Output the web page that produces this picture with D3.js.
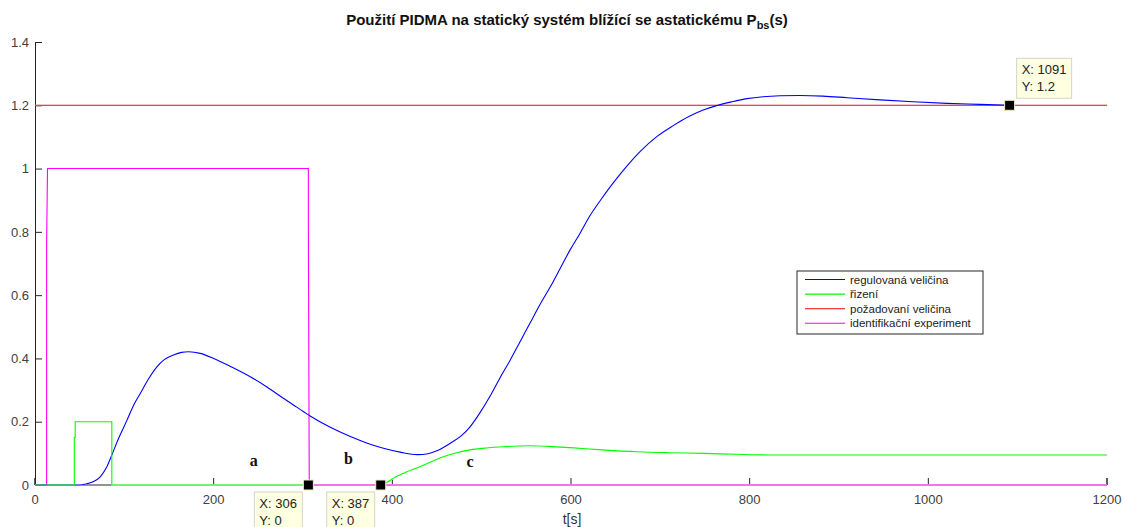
<!DOCTYPE html>
<html>
<head>
<meta charset="utf-8">
<script src="https://cdn.jsdelivr.net/npm/d3@7"></script>
<style>
  html, body { margin: 0; padding: 0; background: #fff; }
  svg { display: block; font-family: "Liberation Sans", Arial, sans-serif; }
</style>
</head>
<body>
<svg id="chart" width="1130" height="527"></svg>
<script>
// Axis ticks
const xTicks = [0, 200, 400, 600, 800, 1000, 1200];
const yTicks = [0, 0.2, 0.4, 0.6, 0.8, 1, 1.2, 1.4];

// Series: [t, value]
const regulovana = [
  [0,0],[50,0],[57,0.003],[65,0.01],[73,0.026],[80,0.055],[86,0.095],[94,0.15],[103,0.205],
  [110,0.25],[118,0.29],[127,0.335],[136,0.372],[145,0.397],[155,0.411],[164,0.419],[172,0.421],
  [185,0.416],[200,0.40],[220,0.373],[241,0.342],[260,0.309],[278,0.274],[293,0.246],[308,0.218],
  [330,0.183],[353,0.153],[372,0.132],[390,0.116],[410,0.103],[428,0.096],[440,0.099],[450,0.108],
  [465,0.132],[477,0.155],[487,0.184],[498,0.228],[509,0.279],[520,0.336],[532,0.395],[543,0.453],
  [554,0.511],[565,0.569],[577,0.627],[588,0.685],[599,0.743],[610,0.795],[621,0.85],[633,0.90],
  [646,0.95],[659,0.996],[677,1.053],[696,1.101],[714,1.135],[733,1.166],[748,1.185],[763,1.199],
  [780,1.211],[797,1.221],[815,1.227],[834,1.230],[856,1.231],[882,1.229],[909,1.224],[946,1.217],
  [983,1.211],[1021,1.206],[1058,1.203],[1091,1.2]
];
// Control signal: test pulse, then (after a gap) the controller output
const rizeniPulse = [[0,0],[44,0],[44,0.15],[45,0.15],[45,0.2],[86,0.2],[86,0],[306,0]];
const rizeniRegulace = [
  [387,0],[395,0.01],[401,0.021],[415,0.04],[431,0.058],[445,0.075],[457,0.089],[472,0.102],
  [487,0.111],[505,0.117],[524,0.121],[554,0.124],[575,0.122],[599,0.118],[635,0.111],[674,0.105],
  [710,0.102],[748,0.100],[785,0.097],[823,0.095],[900,0.095],[1000,0.095],[1100,0.095],[1200,0.095]
];
const pozadovana = [[0,1.2],[1200,1.2]];
const identifikace = [[0,0],[13,0],[13,0.76],[14,1],[306,1],[306,0.83],[307,0],[1200,0]];

const legendLabels = ["regulovaná veličina", "řizení", "požadovaní veličina", "identifikační experiment"];
const seriesColors = ["#0000ff", "#00ff00", "#ff0000", "#ff00ff"];

// Data tips: [t, value, placement]
const dataTips = [[306, 0, "below"], [387, 0, "below"], [1091, 1.2, "above"]];
const sectionLabels = [["a", 245, 0.06], ["b", 351, 0.065], ["c", 487, 0.058]];

const svg = d3.select("#chart");
const plotLeft = 35, plotRight = 1107, plotTop = 42, plotBottom = 485;

const x = d3.scaleLinear().domain([0, 1200]).range([plotLeft, plotRight]);
const y = d3.scaleLinear().domain([0, 1.4]).range([plotBottom, plotTop]);

const line = d3.line().x(d => x(d[0])).y(d => y(d[1]));
const smooth = d3.line().curve(d3.curveMonotoneX).x(d => x(d[0])).y(d => y(d[1]));

// Axes with inward ticks (drawn first so the data lines sit on top)
const axisColor = "#262626";
const xAxis = svg.append("g").attr("transform", `translate(0,${plotBottom})`)
  .call(d3.axisBottom(x).tickValues(xTicks).tickSize(-7).tickPadding(12).offset(0).tickFormat(d3.format("d")));
const yAxis = svg.append("g").attr("transform", `translate(${plotLeft},0)`)
  .call(d3.axisLeft(y).tickValues(yTicks).tickSize(-7).tickPadding(6).tickFormat(d => d3.format("~g")(d)));
[xAxis, yAxis].forEach(a => {
  a.select(".domain").attr("stroke", axisColor).attr("stroke-width", 1);
  a.selectAll(".tick line").attr("stroke", axisColor);
  a.selectAll(".tick text").attr("fill", "#404040").attr("font-size", 13)
    .attr("font-family", "'Liberation Sans', Arial, sans-serif");
});
xAxis.selectAll(".tick text").attr("dy", "0.5em");

// Lines: each path gets an opaque white underlay so it hides the axis beneath it
const series = [
  [identifikace, line, seriesColors[3]],
  [pozadovana, line, seriesColors[2]],
  [regulovana, smooth, seriesColors[0]],
  [rizeniPulse, line, seriesColors[1]],
  [rizeniRegulace, smooth, seriesColors[1]]
];
const under = svg.append("g").attr("fill", "none").attr("stroke", "#fff").attr("stroke-width", 1.3);
const g = svg.append("g").attr("fill", "none").attr("stroke-width", 1.1);
series.forEach(([data, gen, color]) => {
  under.append("path").datum(data).attr("d", gen);
});
series.forEach(([data, gen, color]) => {
  g.append("path").datum(data).attr("d", gen).attr("stroke", color);
});

// Section labels
svg.append("g").selectAll("text").data(sectionLabels).join("text")
  .attr("x", d => x(d[1])).attr("y", d => y(d[2]))
  .attr("text-anchor", "middle")
  .attr("font-family", "'Liberation Serif', 'Times New Roman', serif")
  .attr("font-weight", "bold").attr("font-size", 16).attr("fill", "#111")
  .text(d => d[0]);

// Title
const title = svg.append("text").attr("x", 567).attr("y", 25).attr("text-anchor", "middle")
  .attr("font-weight", "bold").attr("font-size", 15).attr("fill", "#111");
title.append("tspan").text("Použití PIDMA na statický systém blížící se astatickému P");
title.append("tspan").attr("font-size", 11).attr("dy", 4).text("bs");
title.append("tspan").attr("dy", -4).text("(s)");

// X label
svg.append("text").attr("x", 572).attr("y", 524).attr("text-anchor", "middle")
  .attr("font-size", 14).attr("fill", "#333").text("t[s]");

// Legend
const lg = svg.append("g").attr("transform", "translate(797,271)");
lg.append("rect").attr("width", 186).attr("height", 63).attr("fill", "#fff")
  .attr("stroke", axisColor).attr("stroke-width", 1);
legendLabels.forEach((lab, i) => {
  const yy = 8.5 + i * 14.6;
  lg.append("line").attr("x1", 8).attr("x2", 48).attr("y1", yy).attr("y2", yy)
    .attr("stroke", seriesColors[i]).attr("stroke-width", 1.1);
  lg.append("text").attr("x", 53).attr("y", yy + 4).attr("font-size", 11.5).attr("fill", "#222").text(lab);
});

// Data tips
const fmt = d3.format("~g");
dataTips.forEach(([t, v, place]) => {
  const px = x(t), py = y(v);
  const tip = svg.append("g");
  let bx, by;
  if (place === "below") { bx = px - 54; by = py + 7; }
  else { bx = px + 7; by = py - 47; }
  const lines = ["X: " + fmt(t), "Y: " + fmt(v)];
  const tw = Math.max(...lines.map(s => s.length)) * 7 + 6;
  tip.append("rect").attr("x", bx).attr("y", by).attr("width", tw).attr("height", 40)
    .attr("fill", "#ffffe1").attr("stroke", "#d4d4c8").attr("stroke-width", 1);
  lines.forEach((s, i) => {
    tip.append("text").attr("x", bx + 5).attr("y", by + 16 + i * 17)
      .attr("font-size", 13).attr("fill", "#222").text(s);
  });
  tip.append("rect").attr("x", px - 5).attr("y", py - 5).attr("width", 10).attr("height", 10)
    .attr("fill", "#000").attr("stroke", "#f0ecc0").attr("stroke-width", 1);
});
</script>
</body>
</html>
